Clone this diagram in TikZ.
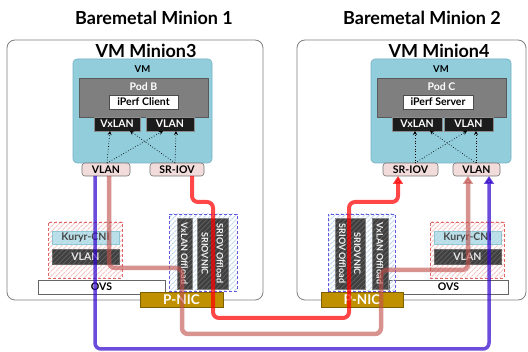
\documentclass[tikz,border=0pt]{standalone}
\usepackage{fontspec}
\setmainfont{Lato}
\usetikzlibrary{arrows.meta,patterns.meta}
\definecolor{vmblue}{HTML}{92CDDC}
\definecolor{vmborder}{HTML}{74B3C4}
\definecolor{podgray}{HTML}{7F7F7F}
\definecolor{podborder}{HTML}{595959}
\definecolor{blackbox}{HTML}{1C1C1C}
\definecolor{pinkfill}{HTML}{F2DCDB}
\definecolor{kuryrfill}{HTML}{B7DEE8}
\definecolor{kuryrborder}{HTML}{8CC4D2}
\definecolor{offgray}{HTML}{404040}
\definecolor{pnicfill}{HTML}{BF9000}
\definecolor{pnicborder}{HTML}{7F6000}
\definecolor{redln}{HTML}{FF0000}
\definecolor{roseln}{HTML}{C0504D}
\definecolor{blueln}{HTML}{2E00CC}
\definecolor{dashred}{HTML}{E06666}
\definecolor{dashblue}{HTML}{6655DD}
\definecolor{hatchred}{HTML}{F4C4C4}
\definecolor{hatchblue}{HTML}{BFD8EE}
\definecolor{hostborder}{HTML}{808080}
\begin{document}
\begin{tikzpicture}[x=1pt,y=-1pt,
  every node/.style={inner sep=0pt, outer sep=0pt},
  hostbox/.style={draw=hostborder, line width=0.8pt, rounded corners=8pt, fill=white},
  titletext/.style={font=\fontsize{18}{20}\selectfont\bfseries},
  vmbox/.style={draw=vmborder, line width=0.6pt, fill=vmblue, rounded corners=4pt},
  podbox/.style={draw=podborder, line width=0.6pt, fill=podgray},
  whitebox/.style={draw=black!70, line width=0.5pt, fill=white, font=\fontsize{10.5}{11}\selectfont\bfseries},
  blkbox/.style={draw=black!45, line width=0.5pt, fill=blackbox, text=white, font=\fontsize{10.5}{12}\selectfont\bfseries},
  pinkbox/.style={draw=black!55, line width=0.6pt, fill=pinkfill, rounded corners=3pt, font=\fontsize{10.5}{12}\selectfont\bfseries},
  grpred/.style={draw=dashred, line width=0.9pt, dash pattern=on 3pt off 2pt, pattern={Lines[angle=45,distance=3.5pt,line width=0.9pt]}, pattern color=hatchred},
  grpblue/.style={draw=dashblue, line width=0.9pt, dash pattern=on 3pt off 2pt, pattern={Lines[angle=45,distance=3.5pt,line width=0.9pt]}, pattern color=hatchblue},
  hatchover/.style={pattern={Lines[angle=45,distance=3.5pt,line width=0.7pt]}, pattern color=white, opacity=0.18},
  kuryrbox/.style={draw=kuryrborder, line width=0.6pt, fill=kuryrfill, text=black!75, font=\fontsize{10.5}{11}\selectfont\bfseries},
  vlandark/.style={draw=black!60, line width=0.5pt, fill=offgray, text=white!90!black, font=\fontsize{10.5}{12}\selectfont\bfseries},
  ovsbox/.style={draw=black!60, line width=0.6pt, fill=white, font=\fontsize{10.5}{12}\selectfont\bfseries},
  offbox/.style={draw=black!50, line width=0.5pt, fill=offgray, text=white!95!black, align=center, font=\fontsize{9}{15}\selectfont\bfseries},
  pnicbox/.style={draw=pnicborder, line width=0.7pt, fill=pnicfill, text=white, font=\fontsize{13.5}{15}\selectfont\bfseries},
  darrow/.style={dotted, line width=0.7pt, -{Stealth[length=4pt,width=4pt]}},
  redpath/.style={draw=redln, line width=4pt, opacity=0.72, rounded corners=6pt, -{Triangle[length=8pt,width=10pt]}},
  rosepath/.style={draw=roseln, line width=4.5pt, opacity=0.62, rounded corners=6pt, -{Triangle[length=8pt,width=10pt]}},
  bluepath/.style={draw=blueln, line width=3.5pt, opacity=0.7, rounded corners=6pt, -{Triangle[length=8pt,width=10pt]}}
]
\useasboundingbox (0,0) rectangle (528,352);

% titles and hosts
\node[titletext] (t1) at (154,18) {Baremetal Minion 1};
\node[titletext] (t2) at (422,18) {Baremetal Minion 2};
\node[hostbox, minimum width=256pt, minimum height=260pt] (host1) at (135,170) {};
\node[hostbox, minimum width=229pt, minimum height=260pt] (host2) at (411.5,170) {};
\node[titletext] (vm3) at (146,51) {VM Minion3};
\node[titletext] (vm4) at (439,51) {VM Minion4};

% left VM
\node[vmbox, minimum width=139pt, minimum height=104pt] (lvm) at (142.5,111) {};
\node[font=\fontsize{9.5}{11}\selectfont\bfseries] (lvmt) at (142.5,69) {VM};
\node[podbox, minimum width=129pt, minimum height=39pt] (lpod) at (143.5,97.5) {};
\node[text=white, font=\fontsize{10.5}{12}\selectfont\bfseries] (lpodt) at (143.5,87) {Pod B};
\node[whitebox, minimum width=69pt, minimum height=14pt] (lclient) at (143.5,102) {iPerf Client};
\node[blkbox, minimum width=46pt, minimum height=14pt] (lvx) at (117,124) {VxLAN};
\node[blkbox, minimum width=48pt, minimum height=14pt] (lvl) at (170,124) {VLAN};
\node[pinkbox, minimum width=48pt, minimum height=13pt] (lvlan) at (106,169.5) {VLAN};
\node[pinkbox, minimum width=54pt, minimum height=13pt] (lsriov) at (177,169.5) {SR-IOV};

% right VM
\node[vmbox, minimum width=140pt, minimum height=104pt] (rvm) at (441,111) {};
\node[font=\fontsize{9.5}{11}\selectfont\bfseries] (rvmt) at (441,69) {VM};
\node[podbox, minimum width=129pt, minimum height=39pt] (rpod) at (441.5,97.5) {};
\node[text=white, font=\fontsize{10.5}{12}\selectfont\bfseries] (rpodt) at (441.5,87) {Pod C};
\node[whitebox, minimum width=70pt, minimum height=14pt] (rserver) at (438,102) {iPerf Server};
\node[blkbox, minimum width=50pt, minimum height=14pt] (rvx) at (417,124) {VxLAN};
\node[blkbox, minimum width=49pt, minimum height=14pt] (rvl) at (468.5,124) {VLAN};
\node[pinkbox, minimum width=55pt, minimum height=13pt] (rsriov) at (410.5,169.5) {SR-IOV};
\node[pinkbox, minimum width=47pt, minimum height=13pt] (rvlan) at (476.5,169.5) {VLAN};

% dotted arrows
\draw[darrow] ([xshift=1pt]lvlan.north) -- ([xshift=-7pt]lvx.south);
\draw[darrow] ([xshift=1pt]lvlan.north) -- ([xshift=-7pt]lvl.south);
\draw[darrow] ([xshift=-2pt]lsriov.north) -- ([xshift=13pt]lvx.south);
\draw[darrow] ([xshift=-2pt]lsriov.north) -- ([xshift=6pt]lvl.south);
\draw[darrow] ([xshift=4.5pt]rsriov.north) -- ([xshift=-2pt]rvx.south);
\draw[darrow] ([xshift=4.5pt]rsriov.north) -- ([xshift=-1.5pt]rvl.south);
\draw[darrow] ([xshift=-0.5pt]rvlan.north) -- ([xshift=7.5pt]rvl.south);
\draw[darrow] ([xshift=-0.5pt]rvlan.north) -- ([xshift=13pt]rvx.south);

% left lower parts
\node[ovsbox, minimum width=127pt, minimum height=14pt] (lovs) at (101.5,287) {OVS};
\node[grpred, minimum width=74pt, minimum height=56pt] (lkgrp) at (85,250) {};
\node[kuryrbox, minimum width=67pt, minimum height=13pt] (lkuryr) at (85.5,237.5) {Kuryr-CNI};
\node[vlandark, minimum width=67pt, minimum height=15pt] (lkvlan) at (85.5,256.5) {VLAN};
\path[hatchover] (lkuryr.north west) rectangle (lkvlan.south east);
\node[grpblue, minimum width=68pt, minimum height=77pt] (lograp) at (203,252.5) {};
\node[offbox, rotate=-90, minimum width=71pt, minimum height=15pt] (lvxoff) at (184.5,253.5) {VxLAN Offload};
\node[offbox, rotate=-90, minimum width=71pt, minimum height=31pt] (lsrioff) at (212.5,253.5) {SRIOV Offload\\SRIOVNIC};
\path[hatchover] (177,218) rectangle (228,289);
\node[pnicbox, minimum width=83pt, minimum height=15pt] (lpnic) at (181.5,299.5) {P-NIC};

% right lower parts
\node[ovsbox, minimum width=119pt, minimum height=14pt] (rovs) at (448.5,287) {OVS};
\node[grpred, minimum width=74pt, minimum height=56pt] (rkgrp) at (467,250) {};
\node[kuryrbox, minimum width=67pt, minimum height=13pt] (rkuryr) at (467.5,237.5) {Kuryr-CNI};
\node[vlandark, minimum width=67pt, minimum height=15pt] (rkvlan) at (467.5,256.5) {VLAN};
\path[hatchover] (rkuryr.north west) rectangle (rkvlan.south east);
\node[grpblue, minimum width=67pt, minimum height=77pt] (rograp) at (361.5,252.5) {};
\node[offbox, rotate=-90, minimum width=71pt, minimum height=30pt] (rsrioff) at (350,253.5) {SRIOVNIC\\SRIOV Offload};
\node[offbox, rotate=-90, minimum width=71pt, minimum height=16pt] (rvxoff) at (380,253.5) {VxLAN Offload};
\path[hatchover] (335,218) rectangle (388,289);
\node[pnicbox, minimum width=82pt, minimum height=15pt] (rpnic) at (362,299.5) {P-NIC};

% connectors
\coordinate (r1) at (192,202);
\coordinate (r2) at (213,202);
\coordinate (r3) at (213,318);
\coordinate (r4) at (349,318);
\coordinate (r5) at (349,202);
\coordinate (r6) at (398,202);
\draw[redpath] ([xshift=15pt]lsriov.south) -- (r1) -- (r2) -- (r3) -- (r4) -- (r5) -- (r6) -- ([xshift=-12.5pt]rsriov.south);

\coordinate (s1) at (109,268);
\coordinate (s2) at (182,268);
\coordinate (s3) at (182,334);
\coordinate (s4) at (381,334);
\coordinate (s5) at (381,270);
\coordinate (s6) at (468,270);
\draw[rosepath] ([xshift=3pt]lvlan.south) -- (s1) -- (s2) -- (s3) -- (s4) -- (s5) -- (s6) -- ([xshift=-8.5pt]rvlan.south);

\coordinate (b1) at (95,349);
\coordinate (b2) at (489,349);
\draw[bluepath] ([xshift=-11pt]lvlan.south) -- (b1) -- (b2) -- ([xshift=12.5pt]rvlan.south);
\end{tikzpicture}
\end{document}
